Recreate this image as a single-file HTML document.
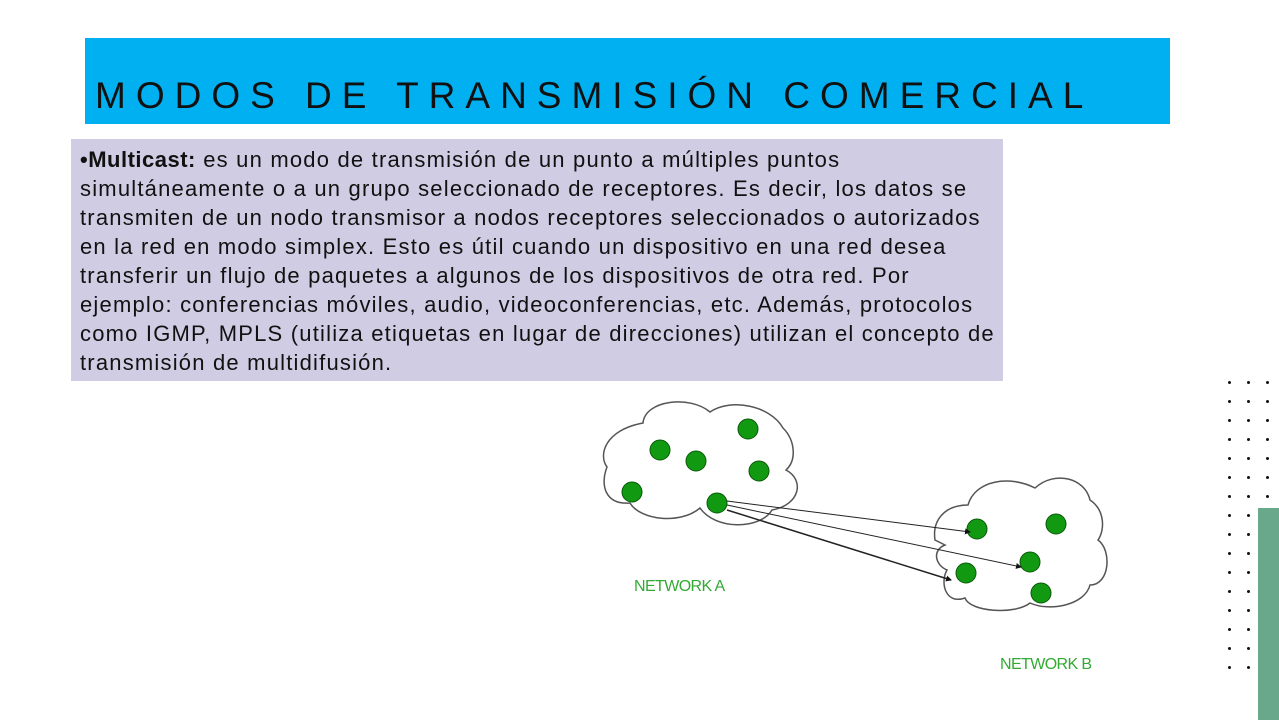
<!DOCTYPE html>
<html><head><meta charset="utf-8"><style>
body{margin:0;width:1279px;height:720px;background:#fff;position:relative;overflow:hidden;font-family:"Liberation Sans",sans-serif}
.title{position:absolute;left:85px;top:38px;width:1085px;height:86px;background:#00b0f0}
.title span{position:absolute;left:10px;top:38px;font-size:37px;letter-spacing:10px;color:#111;white-space:nowrap;line-height:40px}
.box{position:absolute;left:71px;top:139px;width:932px;height:242px;background:#d0cce4}
.box p{margin:0;position:absolute;left:9px;top:6px;width:930px;font-size:22px;letter-spacing:1.2px;line-height:29px;color:#111;white-space:nowrap}
.box b{letter-spacing:0.5px}
.dot{position:absolute;width:3px;height:3px;background:#111;border-radius:50%}
</style></head><body>
<div class="title"><span>MODOS DE TRANSMISIÓN COMERCIAL</span></div>
<div class="box"><p><b>•Multicast:</b> es un modo de transmisión de un punto a múltiples puntos<br>simultáneamente o a un grupo seleccionado de receptores. Es decir, los datos se<br>transmiten de un nodo transmisor a nodos receptores seleccionados o autorizados<br>en la red en modo simplex. Esto es útil cuando un dispositivo en una red desea<br>transferir un flujo de paquetes a algunos de los dispositivos de otra red. Por<br>ejemplo: conferencias móviles, audio, videoconferencias, etc. Además, protocolos<br>como IGMP, MPLS (utiliza etiquetas en lugar de direcciones) utilizan el concepto de<br>transmisión de multidifusión.</p></div>
<div style="position:absolute;left:1258px;top:508px;width:21px;height:212px;background:#6aa88c"></div>
<div id="dots"></div>
<svg width="1279" height="720" style="position:absolute;left:0;top:0">
<defs><marker id="ar" markerWidth="6" markerHeight="6" refX="5" refY="3" orient="auto" markerUnits="userSpaceOnUse"><path d="M0,0 L6,3 L0,6 Z" fill="#111"/></marker></defs>
<path d="M643,423 C645,400 690,395 710,412 C730,398 770,405 783,428 C795,440 797,460 786,470 C805,480 800,505 772,510 C760,530 715,530 700,508 C680,525 640,520 630,503 C605,505 600,485 607,467 C598,455 605,430 643,423 Z" fill="#fff" stroke="#555" stroke-width="1.5"/>
<path d="M935,540 C932,520 945,505 968,505 C975,480 1010,475 1035,488 C1055,470 1085,478 1090,500 C1105,510 1105,530 1098,540 C1112,550 1110,585 1090,585 C1085,605 1050,612 1030,603 C1015,615 970,612 965,598 C945,605 940,582 947,570 C935,565 932,550 945,545 Z" fill="#fff" stroke="#555" stroke-width="1.5"/>
<g fill="#119911" stroke="#0a5a0a" stroke-width="1">
<circle cx="660" cy="450" r="10"/><circle cx="696" cy="461" r="10"/><circle cx="748" cy="429" r="10"/><circle cx="759" cy="471" r="10"/><circle cx="632" cy="492" r="10"/><circle cx="717" cy="503" r="10"/>
<circle cx="977" cy="529" r="10"/><circle cx="1056" cy="524" r="10"/><circle cx="1030" cy="562" r="10"/><circle cx="966" cy="573" r="10"/><circle cx="1041" cy="593" r="10"/>
</g>
<g stroke="#222" stroke-width="1" marker-end="url(#ar)">
<line x1="727" y1="501" x2="970" y2="532"/>
<line x1="727" y1="505" x2="1021" y2="567"/>
<line x1="727" y1="510" x2="951" y2="580" stroke-width="1.5"/>
</g>
<text x="634" y="591" fill="#33aa33" font-size="16" font-family="Liberation Sans" letter-spacing="-0.6">NETWORK A</text>
<text x="1000" y="669" fill="#33aa33" font-size="16" font-family="Liberation Sans" letter-spacing="-0.6">NETWORK B</text>
</svg>
<script>
var d=document.getElementById('dots'),h='';
for(var r=0;r<16;r++){for(var c=0;c<3;c++){if(r>6&&c==2)continue;h+='<div class="dot" style="left:'+(1228+c*19)+'px;top:'+(381+r*19)+'px"></div>';}}
d.innerHTML=h;
</script>
</body></html>
